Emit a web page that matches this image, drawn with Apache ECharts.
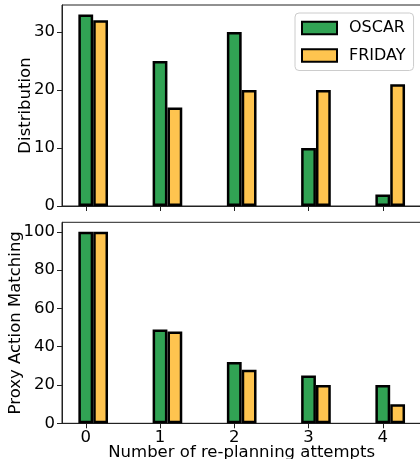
<!DOCTYPE html>
<html>
<head>
<meta charset="utf-8">
<script src="https://cdn.jsdelivr.net/npm/echarts@6/dist/echarts.min.js"></script>
<style>
  html, body { margin: 0; padding: 0; background: #fff; }
  #chart { width: 420px; height: 459px; }
</style>
</head>
<body>
<div id="chart"></div>
<script>
// data
const attempts = [0, 1, 2, 3, 4]
const barOffset = 0.2 // FRIDAY bar sits one bar width to the right
const distOscar = [33, 25, 30, 10, 2]
const distFriday = [32, 17, 20, 20, 21]
const matchOscar = [100, 49, 32, 25, 20]
const matchFriday = [100, 48, 28, 20, 10]
const distTicks = [0, 10, 20, 30]
const matchTicks = [0, 20, 40, 60, 80, 100]

const green = '#31a354'
const yellow = '#fec44f'
const font = 'DejaVu Sans'
const fs = 16.5

const chart = echarts.init(document.getElementById('chart'), null, { renderer: 'canvas' })

function xAxisOf (gridIndex, showLabels) {
  return {
    type: 'value',
    gridIndex: gridIndex,
    min: -0.32,
    max: 4.52,
    splitLine: { show: false },
    axisLine: { show: true, onZero: false, lineStyle: { color: '#222', width: 1 } },
    axisTick: { show: true, length: 5, customValues: attempts, lineStyle: { color: '#222' } },
    axisLabel: {
      show: showLabels,
      customValues: attempts,
      margin: 6,
      fontSize: fs,
      fontFamily: font,
      color: '#000'
    },
    name: showLabels ? 'Number of re-planning attempts' : '',
    nameLocation: 'middle',
    nameGap: 21,
    nameMoveOverlap: false,
    nameTextStyle: { fontSize: fs, fontFamily: font, color: '#000' }
  }
}

function yAxisOf (gridIndex, max, ticks, name, gap) {
  return {
    type: 'value',
    gridIndex: gridIndex,
    min: 0,
    max: max,
    splitLine: { show: false },
    axisLine: { show: true, onZero: false, lineStyle: { color: '#222', width: 1 } },
    axisTick: { show: true, length: 5, customValues: ticks, lineStyle: { color: '#222' } },
    axisLabel: {
      customValues: ticks,
      margin: 7,
      fontSize: fs,
      fontFamily: font,
      color: '#000'
    },
    name: name,
    nameLocation: 'middle',
    nameGap: gap,
    nameMoveOverlap: false,
    nameTextStyle: { fontSize: fs, fontFamily: font, color: '#000' }
  }
}

function barSeries (name, axisIndex, values, shift, color) {
  return {
    name: name,
    type: 'bar',
    xAxisIndex: axisIndex,
    yAxisIndex: axisIndex,
    barWidth: 14.8,
    barGap: '-100%',
    data: attempts.map((a, i) => [a + shift, values[i]]),
    itemStyle: { color: color, borderColor: '#000', borderWidth: 2.5 },
    emphasis: { disabled: true }
  }
}

const gridBase = {
  left: 62,
  width: 359.4,
  height: 201,
  show: true,
  borderColor: '#222',
  borderWidth: 1,
  backgroundColor: 'transparent',
  outerBoundsMode: 'none',
  containLabel: false
}

const options = {
  animation: false,
  backgroundColor: '#fff',
  textStyle: { fontFamily: font },
  grid: [
    Object.assign({ top: 5 }, gridBase),
    Object.assign({ top: 222.3 }, gridBase)
  ],
  legend: {
    data: ['OSCAR', 'FRIDAY'],
    orient: 'vertical',
    left: 295,
    top: 13,
    padding: [7, 8, 7, 6],
    icon: 'rect',
    itemWidth: 35,
    itemHeight: 12.5,
    itemGap: 11.5,
    backgroundColor: 'rgba(255,255,255,0.8)',
    borderColor: '#ccc',
    borderWidth: 1,
    borderRadius: 4,
    textStyle: { fontSize: 16, fontFamily: font, color: '#000', padding: [0, 0, 0, 7] }
  },
  xAxis: [xAxisOf(0, false), xAxisOf(1, true)],
  yAxis: [
    yAxisOf(0, 34.65, distTicks, 'Distribution', 28),
    yAxisOf(1, 105, matchTicks, 'Proxy Action Matching', 38)
  ],
  series: [
    barSeries('OSCAR', 0, distOscar, 0, green),
    barSeries('FRIDAY', 0, distFriday, barOffset, yellow),
    barSeries('OSCAR', 1, matchOscar, 0, green),
    barSeries('FRIDAY', 1, matchFriday, barOffset, yellow)
  ]
}

chart.setOption(options)
</script>
</body>
</html>
